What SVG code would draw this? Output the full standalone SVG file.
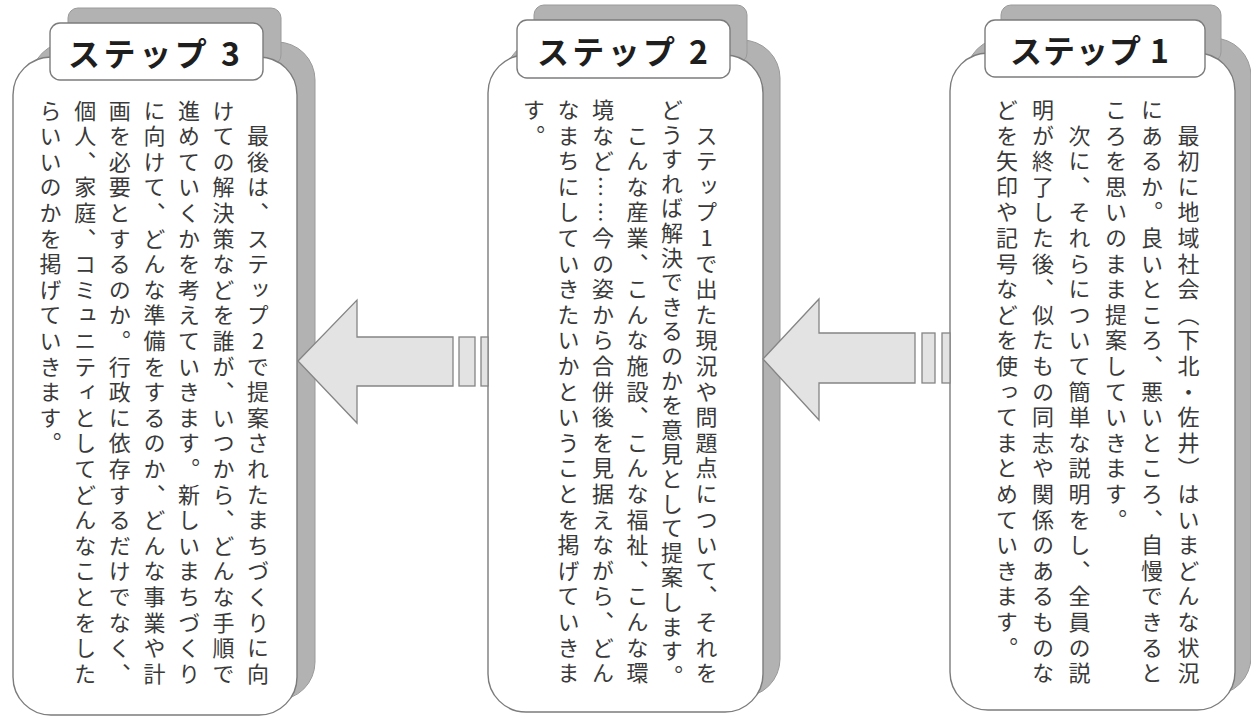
<svg xmlns="http://www.w3.org/2000/svg" width="1251" height="719" viewBox="0 0 1251 719">
<style>
.bg{fill:#ffffff}
.shadow{fill:#b2b2b2;stroke:#9a9a9a;stroke-width:1}
.card{fill:#ffffff;stroke:#7c7c7c;stroke-width:1.4}
.tab{fill:#ffffff;stroke:#7c7c7c;stroke-width:1.4}
.title{font-family:"Noto Sans CJK JP","Noto Sans",sans-serif;font-weight:700;font-size:32px;fill:#1e1e1e}
.body{font-family:"Noto Sans CJK JP","Noto Sans",sans-serif;font-weight:400;font-size:22px;fill:#3a3a3a;writing-mode:vertical-rl;letter-spacing:3.6px}
.up{text-orientation:upright}
.arrow{fill:#e3e3e3;stroke:#858585;stroke-width:1.3;stroke-linejoin:miter}
</style>
<rect class="bg" x="0" y="0" width="1251" height="719"/>

<g id="step3">
  <g transform="translate(18,-15)">
    <rect class="shadow" x="13" y="57" width="284" height="658" rx="38"/>
    <rect class="shadow" x="50" y="23" width="213" height="57" rx="10"/>
  </g>
  <rect class="card" x="13" y="57" width="284" height="658" rx="38"/>
  <rect class="tab" x="50" y="23" width="213" height="57" rx="10"/>
  <text class="title" x="68" y="66" textLength="172" lengthAdjust="spacing">ステップ 3</text>
  <text class="body" x="258" y="124.8">最後は、ステップ<tspan class="up">2</tspan>で提案されたまちづくりに向</text>
  <text class="body" x="223.5" y="99.2">けての解決策などを誰が、いつから、どんな手順で</text>
  <text class="body" x="189" y="99.2">進めていくかを考えていきます。新しいまちづくり</text>
  <text class="body" x="154.4" y="99.2">に向けて、どんな準備をするのか、どんな事業や計</text>
  <text class="body" x="119.8" y="99.2">画を必要とするのか。行政に依存するだけでなく、</text>
  <text class="body" x="85.2" y="99.2">個人、家庭、コミュニティとしてどんなことをした</text>
  <text class="body" x="50.6" y="99.2">らいいのかを掲げていきます。</text>
</g>

<g id="step2">
  <g transform="translate(17,-15)">
    <rect class="shadow" x="488" y="55" width="275" height="657" rx="38"/>
    <rect class="shadow" x="517" y="20" width="213" height="58" rx="10"/>
  </g>
  <rect class="card" x="488" y="55" width="275" height="657" rx="38"/>
  <rect class="tab" x="517" y="20" width="213" height="58" rx="10"/>
  <text class="title" x="537" y="64" textLength="171" lengthAdjust="spacing">ステップ 2</text>
  <text class="body" x="706.5" y="124.2">ステップ<tspan class="up">1</tspan>で出た現況や問題点について、それを</text>
  <text class="body" x="672" y="98.6" style="letter-spacing:2.6px">どうすれば解決できるのかを意見として提案します。</text>
  <text class="body" x="637.5" y="124.2">こんな産業、こんな施設、こんな福祉、こんな環</text>
  <text class="body" x="603" y="98.6">境など……今の姿から合併後を見据えながら、どん</text>
  <text class="body" x="568.5" y="98.6">なまちにしていきたいかということを掲げていきま</text>
  <text class="body" x="534" y="98.6">す。</text>
</g>

<g id="step1">
  <g transform="translate(16,-15)">
    <rect class="shadow" x="950" y="53" width="285" height="657" rx="38"/>
    <rect class="shadow" x="985" y="20" width="220" height="57" rx="10"/>
  </g>
  <rect class="card" x="950" y="53" width="285" height="657" rx="38"/>
  <rect class="tab" x="985" y="20" width="220" height="57" rx="10"/>
  <text class="title" x="1010" y="63" textLength="159" lengthAdjust="spacing">ステップ 1</text>
  <text class="body" x="1188.5" y="124.2">最初に地域社会（下北・佐井）はいまどんな状況</text>
  <text class="body" x="1152" y="98.6">にあるか。良いところ、悪いところ、自慢できると</text>
  <text class="body" x="1116" y="98.6">ころを思いのまま提案していきます。</text>
  <text class="body" x="1079.5" y="124.2">次に、それらについて簡単な説明をし、全員の説</text>
  <text class="body" x="1043" y="98.6">明が終了した後、似たもの同志や関係のあるものな</text>
  <text class="body" x="1007" y="98.6">どを矢印や記号などを使ってまとめていきます。</text>
</g>

<g id="connectors">
  <g id="arrow-2-to-3">
    <polygon class="arrow" points="298,361 357,300 357,337 453,337 453,386 357,386 357,423"/>
    <rect class="arrow" x="459" y="337" width="16" height="49"/>
    <rect class="arrow" x="481" y="337" width="7" height="49"/>
  </g>
  <g id="arrow-1-to-2">
    <polygon class="arrow" points="763,359 819,299 819,333 915,333 915,383 819,383 819,420"/>
    <rect class="arrow" x="922" y="333" width="13" height="50"/>
    <rect class="arrow" x="942" y="333" width="8" height="50"/>
  </g>
</g>
</svg>
